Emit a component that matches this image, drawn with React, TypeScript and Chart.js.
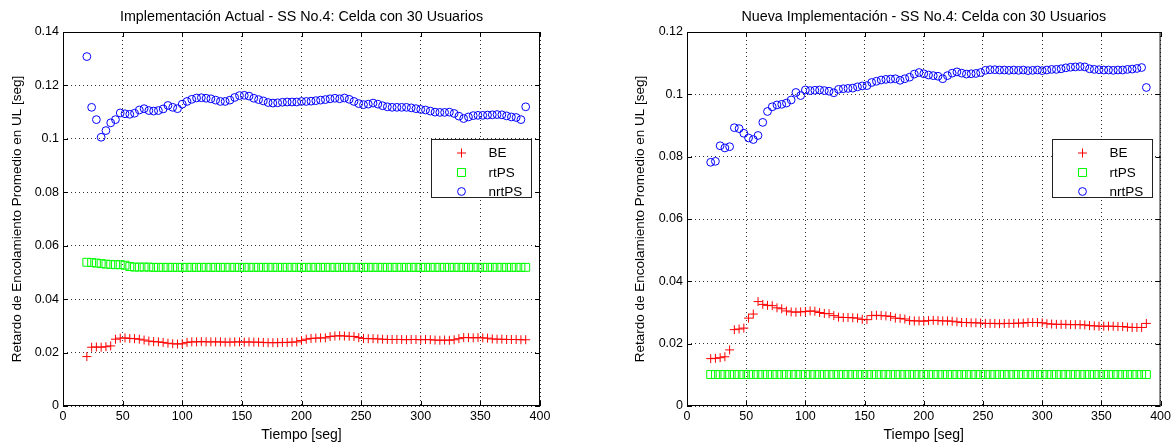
import React, { useEffect, useRef } from 'react';
import { Chart, registerables } from 'chart.js';

Chart.register(...registerables);

const FONT = '"Liberation Sans", Arial, Helvetica, sans-serif';

// Time instants (seconds)
const TIME = [
  20, 24, 28, 32, 36, 40, 44, 48, 52, 56,
  60, 64, 68, 72, 76, 80, 84, 88, 92, 96,
  100, 104, 108, 112, 116, 120, 124, 128, 132, 136,
  140, 144, 148, 152, 156, 160, 164, 168, 172, 176,
  180, 184, 188, 192, 196, 200, 204, 208, 212, 216,
  220, 224, 228, 232, 236, 240, 244, 248, 252, 256,
  260, 264, 268, 272, 276, 280, 284, 288, 292, 296,
  300, 304, 308, 312, 316, 320, 324, 328, 332, 336,
  340, 344, 348, 352, 356, 360, 364, 368, 372, 376,
  380, 384, 388,
];

// Left chart: Implementación Actual
const LEFT_BE = [
  0.0185, 0.0220, 0.0221, 0.0220, 0.0222, 0.0225, 0.0250, 0.0254, 0.0255, 0.0253,
  0.0252, 0.0250, 0.0247, 0.0243, 0.0241, 0.0240, 0.0238, 0.0235, 0.0233, 0.0232,
  0.0233, 0.0238, 0.0240, 0.0240, 0.0241, 0.0240, 0.0240, 0.0240, 0.0240, 0.0239,
  0.0239, 0.0240, 0.0240, 0.0239, 0.0240, 0.0239, 0.0239, 0.0238, 0.0237, 0.0237,
  0.0237, 0.0238, 0.0238, 0.0239, 0.0240, 0.0245, 0.0250, 0.0253, 0.0254, 0.0255,
  0.0255, 0.0260, 0.0262, 0.0263, 0.0262, 0.0261, 0.0260, 0.0256, 0.0253, 0.0252,
  0.0252, 0.0251, 0.0250, 0.0249, 0.0249, 0.0249, 0.0249, 0.0248, 0.0249, 0.0249,
  0.0248, 0.0249, 0.0248, 0.0247, 0.0246, 0.0247, 0.0246, 0.0248, 0.0252, 0.0256,
  0.0256, 0.0255, 0.0256, 0.0255, 0.0254, 0.0251, 0.0250, 0.0250, 0.0249, 0.0249,
  0.0249, 0.0248, 0.0248,
];

const LEFT_RTPS = [
  0.0538, 0.0537, 0.0535, 0.0533, 0.0531, 0.0530, 0.0529, 0.0529, 0.0527, 0.0522,
  0.0520, 0.0520, 0.0520, 0.0520, 0.0519, 0.0519, 0.0519, 0.0519, 0.0519, 0.0519,
  0.0519, 0.0519, 0.0519, 0.0519, 0.0519, 0.0519, 0.0519, 0.0519, 0.0519, 0.0519,
  0.0519, 0.0519, 0.0519, 0.0519, 0.0519, 0.0519, 0.0519, 0.0519, 0.0519, 0.0519,
  0.0519, 0.0519, 0.0519, 0.0519, 0.0519, 0.0519, 0.0519, 0.0519, 0.0519, 0.0519,
  0.0519, 0.0519, 0.0519, 0.0519, 0.0519, 0.0519, 0.0519, 0.0519, 0.0519, 0.0519,
  0.0519, 0.0519, 0.0519, 0.0519, 0.0519, 0.0519, 0.0519, 0.0519, 0.0519, 0.0519,
  0.0519, 0.0519, 0.0519, 0.0519, 0.0519, 0.0519, 0.0519, 0.0519, 0.0519, 0.0519,
  0.0519, 0.0519, 0.0519, 0.0519, 0.0519, 0.0519, 0.0519, 0.0519, 0.0519, 0.0519,
  0.0519, 0.0519, 0.0519,
];

const LEFT_NRTPS = [
  0.1308, 0.1118, 0.1072, 0.1006, 0.1031, 0.1060, 0.1072, 0.1097, 0.1094, 0.1092,
  0.1096, 0.1108, 0.1113, 0.1106, 0.1104, 0.1106, 0.1112, 0.1125, 0.1118, 0.1113,
  0.1130, 0.1140, 0.1148, 0.1153, 0.1154, 0.1152, 0.1150, 0.1145, 0.1140, 0.1140,
  0.1145, 0.1155, 0.1162, 0.1163, 0.1160, 0.1152, 0.1147, 0.1142, 0.1136, 0.1134,
  0.1135, 0.1137, 0.1138, 0.1138, 0.1138, 0.1140, 0.1140, 0.1141, 0.1143, 0.1145,
  0.1147, 0.1150, 0.1152, 0.1150, 0.1153, 0.1148, 0.1140, 0.1132, 0.1128, 0.1130,
  0.1134, 0.1130, 0.1124, 0.1120, 0.1118, 0.1118, 0.1118, 0.1118, 0.1116, 0.1113,
  0.1110, 0.1108, 0.1104, 0.1100, 0.1099, 0.1099, 0.1100, 0.1095, 0.1085, 0.1076,
  0.1082, 0.1087, 0.1088, 0.1088, 0.1089, 0.1090, 0.1091, 0.1090, 0.1086, 0.1082,
  0.1080, 0.1072, 0.1120,
];

// Right chart: Nueva Implementación
const RIGHT_BE = [
  0.0152, 0.0153, 0.0155, 0.0158, 0.0180, 0.0245, 0.0247, 0.0250, 0.0282, 0.0295,
  0.0335, 0.0326, 0.0323, 0.0322, 0.0315, 0.0312, 0.0305, 0.0302, 0.0301, 0.0302,
  0.0303, 0.0305, 0.0304, 0.0300, 0.0297, 0.0296, 0.0290, 0.0285, 0.0284, 0.0284,
  0.0283, 0.0282, 0.0278, 0.0277, 0.0290, 0.0291, 0.0290, 0.0289, 0.0287, 0.0282,
  0.0281, 0.0279, 0.0274, 0.0273, 0.0273, 0.0272, 0.0274, 0.0275, 0.0274, 0.0273,
  0.0273, 0.0272, 0.0270, 0.0268, 0.0268, 0.0267, 0.0267, 0.0266, 0.0265, 0.0265,
  0.0265, 0.0264, 0.0265, 0.0265, 0.0265, 0.0266, 0.0266, 0.0268, 0.0268, 0.0268,
  0.0267, 0.0264, 0.0263, 0.0262, 0.0262, 0.0262, 0.0261, 0.0261, 0.0261, 0.0260,
  0.0258, 0.0257, 0.0256, 0.0256, 0.0256, 0.0256, 0.0255, 0.0255, 0.0253, 0.0252,
  0.0252, 0.0252, 0.0265,
];

const RIGHT_RTPS = [
  0.0101, 0.0101, 0.0101, 0.0101, 0.0101, 0.0101, 0.0101, 0.0101, 0.0101, 0.0101,
  0.0101, 0.0101, 0.0101, 0.0101, 0.0101, 0.0101, 0.0101, 0.0101, 0.0101, 0.0101,
  0.0101, 0.0101, 0.0101, 0.0101, 0.0101, 0.0101, 0.0101, 0.0101, 0.0101, 0.0101,
  0.0101, 0.0101, 0.0101, 0.0101, 0.0101, 0.0101, 0.0101, 0.0101, 0.0101, 0.0101,
  0.0101, 0.0101, 0.0101, 0.0101, 0.0101, 0.0101, 0.0101, 0.0101, 0.0101, 0.0101,
  0.0101, 0.0101, 0.0101, 0.0101, 0.0101, 0.0101, 0.0101, 0.0101, 0.0101, 0.0101,
  0.0101, 0.0101, 0.0101, 0.0101, 0.0101, 0.0101, 0.0101, 0.0101, 0.0101, 0.0101,
  0.0101, 0.0101, 0.0101, 0.0101, 0.0101, 0.0101, 0.0101, 0.0101, 0.0101, 0.0101,
  0.0101, 0.0101, 0.0101, 0.0101, 0.0101, 0.0101, 0.0101, 0.0101, 0.0101, 0.0101,
  0.0101, 0.0101, 0.0101,
];

const RIGHT_NRTPS = [
  0.0782, 0.0785, 0.0835, 0.0828, 0.0832, 0.0893, 0.0890, 0.0875, 0.0860, 0.0855,
  0.0868, 0.0910, 0.0945, 0.0960, 0.0966, 0.0968, 0.0972, 0.0982, 0.1006, 0.0996,
  0.1014, 0.1012, 0.1013, 0.1014, 0.1012, 0.1010, 0.1005, 0.1016, 0.1018, 0.1019,
  0.1020, 0.1024, 0.1027, 0.1028, 0.1038, 0.1042, 0.1046, 0.1048, 0.1049, 0.1050,
  0.1045, 0.1050, 0.1055, 0.1065, 0.1070, 0.1066, 0.1062, 0.1060, 0.1058, 0.1050,
  0.1060, 0.1068, 0.1072, 0.1068, 0.1065, 0.1066, 0.1067, 0.1070, 0.1077, 0.1079,
  0.1079, 0.1078, 0.1078, 0.1077, 0.1078, 0.1077, 0.1078, 0.1076, 0.1077, 0.1078,
  0.1076, 0.1078, 0.1080, 0.1080, 0.1082, 0.1085, 0.1087, 0.1088, 0.1089, 0.1088,
  0.1082, 0.1080, 0.1079, 0.1078, 0.1078, 0.1077, 0.1078, 0.1078, 0.1080, 0.1081,
  0.1083, 0.1086, 0.1022,
];

const SERIES_LABELS = ['BE', 'rtPS', 'nrtPS'];
const X_TICKS = [0, 50, 100, 150, 200, 250, 300, 350, 400];
const LEFT_Y_MAX = 0.14;
const RIGHT_Y_MAX = 0.12;
const LEFT_TITLE = 'Implementación Actual - SS No.4: Celda con 30 Usuarios';
const RIGHT_TITLE = 'Nueva Implementación - SS No.4: Celda con 30 Usuarios';
const X_LABEL = 'Tiempo [seg]';
const Y_LABEL = 'Retardo de Encolamiento Promedio en UL [seg]';

const STYLES = [
  { pointStyle: 'cross', color: '#ff0000', radius: 4.5 },
  { pointStyle: 'rect', color: '#00ff00', radius: 5.6 },
  { pointStyle: 'circle', color: '#0000ff', radius: 3.9 },
];

function drawMarker(ctx: CanvasRenderingContext2D, style: string, x: number, y: number, color: string) {
  ctx.save();
  ctx.strokeStyle = color;
  ctx.lineWidth = 1;
  ctx.beginPath();
  if (style === 'cross') {
    ctx.moveTo(x - 4.5, y);
    ctx.lineTo(x + 4.5, y);
    ctx.moveTo(x, y - 4.5);
    ctx.lineTo(x, y + 4.5);
  } else if (style === 'rect') {
    ctx.rect(x - 4, y - 4, 8, 8);
  } else {
    ctx.arc(x, y, 3.9, 0, Math.PI * 2);
  }
  ctx.stroke();
  ctx.restore();
}

const decorPlugin = {
  id: 'matlabDecor',
  beforeDatasetsDraw(chart: any) {
    const { ctx, chartArea: a, scales } = chart;
    ctx.save();
    ctx.strokeStyle = '#000';
    ctx.lineWidth = 1;
    ctx.strokeRect(a.left + 0.5, a.top + 0.5, a.right - a.left - 1, a.bottom - a.top - 1);
    const tl = 5;
    ctx.beginPath();
    for (const t of scales.x.ticks) {
      const px = Math.round(scales.x.getPixelForValue(t.value)) + 0.5;
      ctx.moveTo(px, a.bottom);
      ctx.lineTo(px, a.bottom - tl);
      ctx.moveTo(px, a.top);
      ctx.lineTo(px, a.top + tl);
    }
    for (const t of scales.y.ticks) {
      const py = Math.round(scales.y.getPixelForValue(t.value)) + 0.5;
      ctx.moveTo(a.left, py);
      ctx.lineTo(a.left + tl, py);
      ctx.moveTo(a.right, py);
      ctx.lineTo(a.right - tl, py);
    }
    ctx.stroke();
    ctx.restore();
  },
  afterDraw(chart: any, _args: any, opts: any) {
    const { ctx, chartArea: a } = chart;
    ctx.save();
    // title
    ctx.fillStyle = '#000';
    ctx.font = `14.3px ${FONT}`;
    ctx.textAlign = 'center';
    ctx.textBaseline = 'middle';
    ctx.fillText(opts.title, (a.left + a.right) / 2, 17);
    // legend
    const w = 100;
    const h = 58;
    const lx = Math.round(a.right - 109) + 0.5;
    const ly = Math.round(a.top + 107) + 0.5;
    ctx.fillStyle = '#fff';
    ctx.fillRect(lx, ly, w, h);
    ctx.strokeStyle = '#222';
    ctx.lineWidth = 1;
    ctx.strokeRect(lx, ly, w, h);
    ctx.font = `13.5px ${FONT}`;
    ctx.textAlign = 'left';
    const rows = [13.5, 33, 52];
    SERIES_LABELS.forEach((lab, i) => {
      const yy = ly + rows[i];
      drawMarker(ctx, STYLES[i].pointStyle, lx + 30, yy, STYLES[i].color);
      ctx.fillStyle = '#000';
      ctx.fillText(lab, lx + 57, yy + 0.5);
    });
    ctx.restore();
  },
};

type Props = {
  title: string;
  be: number[];
  rt: number[];
  nrt: number[];
  yMax: number;
  canvasWidth: number;
  axisWidth: number;
  padRight: number;
  yTitlePad: number;
};

function MatlabChart(p: Props) {
  const ref = useRef<HTMLCanvasElement | null>(null);
  useEffect(() => {
    const series = [p.be, p.rt, p.nrt];
    const chart = new Chart(ref.current as HTMLCanvasElement, {
      type: 'scatter',
      data: {
        datasets: series.map((vals, i) => ({
          label: SERIES_LABELS[i],
          data: TIME.map((t, k) => ({ x: t, y: vals[k] })),
          showLine: false,
          pointStyle: STYLES[i].pointStyle as any,
          pointRadius: STYLES[i].radius,
          pointHoverRadius: STYLES[i].radius,
          pointBorderWidth: 1,
          borderColor: STYLES[i].color,
          backgroundColor: 'rgba(0,0,0,0)',
        })),
      },
      options: {
        animation: false,
        responsive: false,
        events: [],
        layout: { padding: { top: 32, right: p.padRight, left: 0, bottom: 0 } },
        plugins: {
          legend: { display: false },
          tooltip: { enabled: false },
          title: { display: false },
          matlabDecor: { title: p.title },
        } as any,
        scales: {
          x: {
            type: 'linear',
            min: 0,
            max: 400,
            afterBuildTicks: (s: any) => {
              s.ticks = X_TICKS.map((v) => ({ value: v }));
            },
            afterFit: (s: any) => {
              s.height = 42;
            },
            grid: { color: 'rgba(0,0,0,0.8)', drawTicks: false, lineWidth: 1 },
            border: { display: false, dash: [1, 3] },
            ticks: { color: '#000', font: { family: FONT, size: 12.5 }, padding: 3, maxRotation: 0 },
            title: {
              display: true,
              text: X_LABEL,
              color: '#000',
              font: { family: FONT, size: 14 },
              padding: { top: 0, bottom: 4.2 },
            },
          },
          y: {
            type: 'linear',
            min: 0,
            max: p.yMax,
            ticks: {
              stepSize: 0.02,
              color: '#000',
              font: { family: FONT, size: 12.5 },
              padding: 4,
              callback: (v: any) => String(Number(Number(v).toFixed(2))),
            },
            afterFit: (s: any) => {
              s.width = p.axisWidth;
            },
            grid: { color: 'rgba(0,0,0,0.8)', drawTicks: false, lineWidth: 1 },
            border: { display: false, dash: [1, 3] },
            title: {
              display: true,
              text: Y_LABEL,
              color: '#000',
              font: { family: FONT, size: 13.5 },
              padding: { top: p.yTitlePad, bottom: 0 },
            },
          },
        },
      },
      plugins: [decorPlugin],
    });
    return () => chart.destroy();
  }, []);
  return (
    <canvas
      ref={ref}
      width={p.canvasWidth}
      height={448}
      style={{ display: 'block', width: p.canvasWidth, height: 448 }}
    />
  );
}

export default function App() {
  return (
    <div
      style={{
        position: 'absolute',
        left: 0,
        top: 0,
        width: 1174,
        height: 448,
        background: '#fff',
        display: 'flex',
      }}
    >
      <MatlabChart
        title={LEFT_TITLE}
        be={LEFT_BE}
        rt={LEFT_RTPS}
        nrt={LEFT_NRTPS}
        yMax={LEFT_Y_MAX}
        canvasWidth={600}
        axisWidth={63}
        padRight={60}
        yTitlePad={9}
      />
      <MatlabChart
        title={RIGHT_TITLE}
        be={RIGHT_BE}
        rt={RIGHT_RTPS}
        nrt={RIGHT_NRTPS}
        yMax={RIGHT_Y_MAX}
        canvasWidth={574}
        axisWidth={87}
        padRight={12}
        yTitlePad={32}
      />
    </div>
  );
}
